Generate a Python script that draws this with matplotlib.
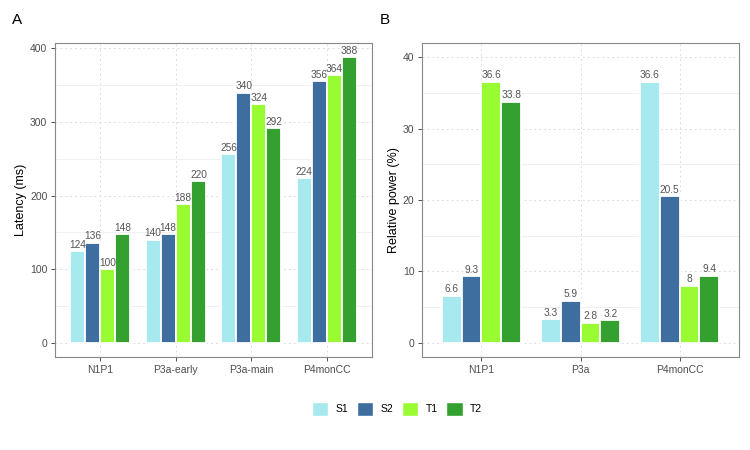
import numpy as np
import matplotlib.pyplot as plt
from matplotlib.patches import Patch

# data
groups = ["S1", "S2", "T1", "T2"]
colors = ["#A6E9EF", "#3E6DA0", "#99FC33", "#33A02F"]

lat_cats = ["N1P1", "P3a-early", "P3a-main", "P4monCC"]
lat_vals = {
    "S1": [124, 140, 256, 224],
    "S2": [136, 148, 340, 356],
    "T1": [100, 188, 324, 364],
    "T2": [148, 220, 292, 388],
}

pow_cats = ["N1P1", "P3a", "P4monCC"]
pow_vals = {
    "S1": [6.6, 3.3, 36.6],
    "S2": [9.3, 5.9, 20.5],
    "T1": [36.6, 2.8, 8],
    "T2": [33.8, 3.2, 9.4],
}

plt.rcParams['font.family'] = ['Liberation Sans', 'DejaVu Sans']

fig = plt.figure(figsize=(7.5, 4.5), dpi=100)
axA = fig.add_axes([55/750, 1 - 357/450, 317/750, 314/450])
axB = fig.add_axes([422/750, 1 - 357/450, 317/750, 314/450])


def fmt(v):
    return f"{v:g}"


def draw(ax, cats, vals, ylim, yticks, minor, ylabel):
    x = np.arange(len(cats))
    slot = 0.2
    for i, g in enumerate(groups):
        xs = x + (i - 1.5) * slot
        ax.bar(xs, vals[g], width=slot, color=colors[i], edgecolor="white",
               linewidth=1.3, zorder=3)
        for xi, v in zip(xs, vals[g]):
            ax.text(xi, v + (ylim[1] - ylim[0]) * 0.004, fmt(v), ha="center",
                    va="bottom", fontsize=7.3, color="#555555", zorder=4)
    ax.set_xlim(-0.6, len(cats) - 0.4)
    ax.set_ylim(*ylim)
    ax.set_xticks(x)
    ax.set_xticklabels(cats)
    ax.set_yticks(yticks)
    ax.set_yticks(minor, minor=True)
    ax.tick_params(axis="both", which="major", labelsize=7.5,
                   length=3, color="#333333", width=0.6, pad=2.5)
    ax.tick_params(axis="y", which="minor", length=0)
    for lab in ax.get_xticklabels() + ax.get_yticklabels():
        lab.set_color("#4d4d4d")
    ax.grid(which="major", axis="both", color="#dddddd", linestyle=(0, (2, 3)),
            linewidth=0.7, zorder=0)
    ax.grid(which="minor", axis="y", color="#eeeeee", linestyle="-",
            linewidth=0.6, zorder=0)
    for s in ax.spines.values():
        s.set_color("#888888")
        s.set_linewidth(0.8)
    ax.set_ylabel(ylabel, fontsize=9, color="black", labelpad=2)


draw(axA, lat_cats, lat_vals, (-19.4, 407.4), [0, 100, 200, 300, 400],
     [50, 150, 250, 350], "Latency (ms)")
draw(axB, pow_cats, pow_vals, (-2, 42), [0, 10, 20, 30, 40],
     [5, 15, 25, 35], "Relative power (%)")

fig.text(12/750, 1 - 20/450, "A", fontsize=11, va="center", ha="left")
fig.text(380/750, 1 - 20/450, "B", fontsize=11, va="center", ha="left")

handles = [Patch(facecolor=c, edgecolor="white") for c in colors]
fig.legend(handles, groups, loc="center", bbox_to_anchor=(397/750, 1 - 409/450),
           ncol=4, frameon=False, fontsize=7.5, handlelength=1.6, handleheight=1.8,
           handletextpad=0.7, columnspacing=0.8)

fig.savefig("out.png", dpi=100)
